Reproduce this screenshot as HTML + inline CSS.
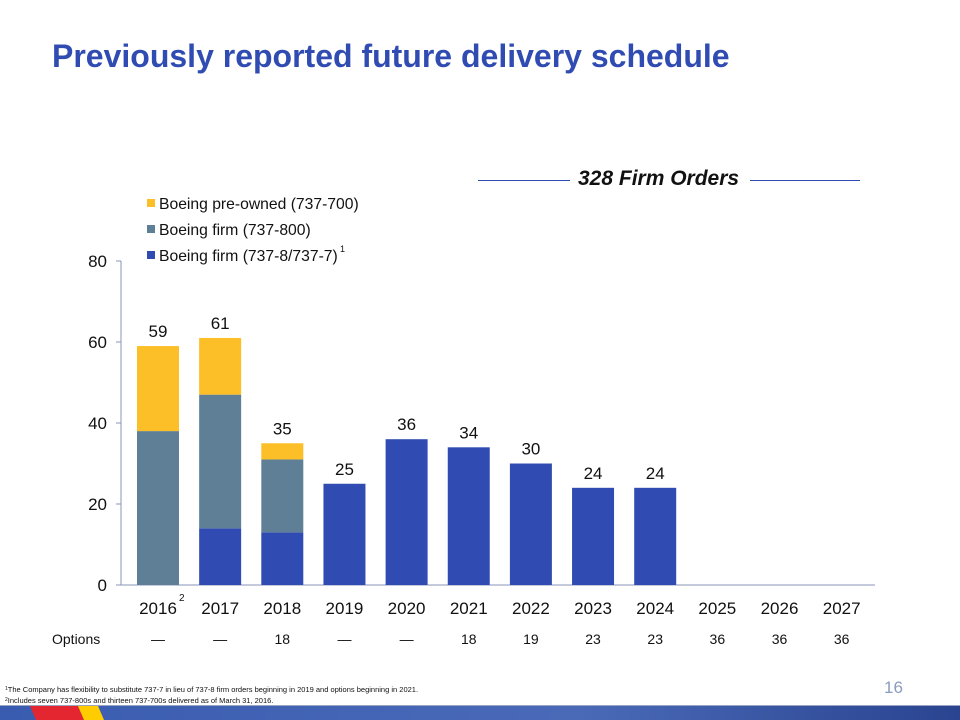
<!DOCTYPE html>
<html><head><meta charset="utf-8"><style>
body{margin:0;width:960px;height:720px;background:#fff;position:relative;overflow:hidden;font-family:"Liberation Sans",Arial,sans-serif}
.t{position:absolute;white-space:nowrap}
</style></head><body>
<div class="t" style="left:52px;top:38px;font-size:32px;font-weight:bold;color:#304CB2">Previously reported future delivery schedule</div>
<div style="position:absolute;left:478px;top:180px;width:92px;height:1px;background:#304CB2"></div>
<div style="position:absolute;left:750px;top:180px;width:110px;height:1px;background:#304CB2"></div>
<div class="t" style="left:578px;top:167px;font-size:21px;font-weight:bold;font-style:italic;color:#111">328 Firm Orders</div>
<svg id="chart" width="960" height="720" style="position:absolute;left:0;top:0"></svg>
<div class="t" style="left:884px;top:678px;font-size:17px;color:#8a9bc0">16</div>
<div class="t" style="left:5px;top:685px;font-size:7.5px;line-height:9px;color:#111"><span style="font-size:5px;vertical-align:top">1</span>The Company has flexibility to substitute 737-7 in lieu of 737-8 firm orders beginning in 2019 and options beginning in 2021.</div>
<div class="t" style="left:5px;top:696px;font-size:7.5px;line-height:9px;color:#111"><span style="font-size:5px;vertical-align:top">2</span>Includes seven 737-800s and thirteen 737-700s delivered as of March 31, 2016.</div>
<div style="position:absolute;left:0;top:705px;width:960px;height:1px;background:#9aa6c0"></div>
<svg width="960" height="14" style="position:absolute;left:0;top:706px">
<defs><linearGradient id="g" x1="0" x2="1"><stop offset="0" stop-color="#3a5cb0"/><stop offset="0.6" stop-color="#4a6ab8"/><stop offset="1" stop-color="#2a4490"/></linearGradient></defs>
<rect width="960" height="14" fill="url(#g)"/>
<polygon points="30,0 78,0 84,14 36,14" fill="#e3262f"/>
<polygon points="78,0 98,0 104,14 84,14" fill="#ffcc00"/>
</svg>
<script>
const years=["2016","2017","2018","2019","2020","2021","2022","2023","2024","2025","2026","2027"];
const blue=[0,14,13,25,36,34,30,24,24,0,0,0];
const grey=[38,33,18,0,0,0,0,0,0,0,0,0];
const yellow=[21,14,4,0,0,0,0,0,0,0,0,0];
const totals=["59","61","35","25","36","34","30","24","24","","",""];
const options=["—","—","18","—","—","18","19","23","23","36","36","36"];
const yTicks=[0,20,40,60,80];
const svg=document.getElementById('chart');const NS='http://www.w3.org/2000/svg';
const x0=121,x1=875,y0=585,yTop=261,yMax=80;
const step=62.15;
const y=v=>y0-(v/yMax)*(y0-yTop);
const cx=i=>158+step*i;
function mk(t,a,txt){const e=document.createElementNS(NS,t);for(const k in a)e.setAttribute(k,a[k]);if(txt!==undefined)e.textContent=txt;svg.appendChild(e);return e;}
let ax=mk('line',{x1:x0,x2:x0,y1:yTop,y2:y0,stroke:'#8a95b8'});

let xa=mk('line',{x1:x0,x2:x1,y1:y0,y2:y0,stroke:'#8a95b8'});

yTicks.forEach(v=>{mk('line',{x1:x0-5,x2:x0,y1:y(v),y2:y(v),stroke:'#8a95b8'});
const t=mk('text',{x:x0-14,y:y(v)+6,'text-anchor':'end','font-size':17,fill:'#111'},v);
});
const bw=42;
years.forEach((yr,i)=>{
 let base=0;
 [[blue,'#304CB2','blue'],[grey,'#5E7F96','grey'],[yellow,'#FDBF27','yellow']].forEach(([arr,c,n])=>{
  const v=arr[i];if(v>0){const r=mk('rect',{x:cx(i)-bw/2,y:y(base+v),width:bw,height:y(base)-y(base+v),fill:c});
  }
  base+=v;});
 if(totals[i]){const t=mk('text',{x:cx(i),y:y(base)-9,'text-anchor':'middle','font-size':17,fill:'#111'},totals[i]);
 }
 const xl=mk('text',{x:cx(i),y:614,'text-anchor':'middle','font-size':17,fill:'#111'},yr);
 
 const o=mk('text',{x:cx(i),y:644,'text-anchor':'middle','font-size':14,fill:'#111'},options[i]);
 
});
let s=mk('text',{x:179,y:601,'font-size':10,fill:'#111'},'2');

let ol=mk('text',{x:52,y:644,'font-size':14,fill:'#111'},'Options');

[['Boeing pre-owned (737-700)','#FDBF27'],['Boeing firm (737-800)','#5E7F96'],['Boeing firm (737-8/737-7)','#304CB2']].forEach(([l,c],k)=>{
 const yy=205+k*26;
 const r=mk('rect',{x:147,y:yy-6,width:8,height:8,fill:c});
 const t=mk('text',{x:159,y:yy+4,'font-size':15.7,fill:'#111'},l);
});
let s1=mk('text',{x:340,y:252,'font-size':9,fill:'#111'},'1');

</script>
</body></html>
